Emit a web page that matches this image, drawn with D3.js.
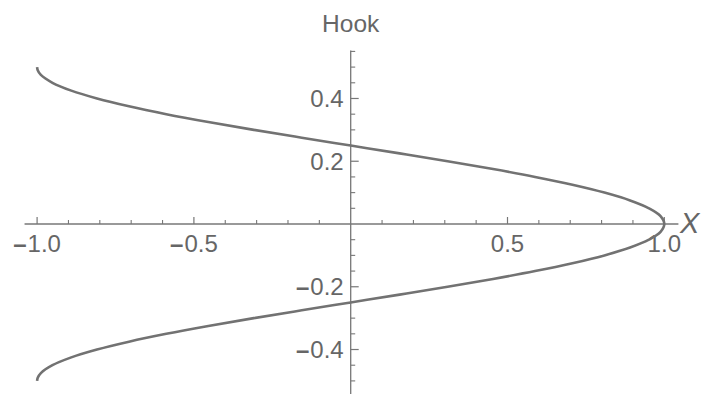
<!DOCTYPE html>
<html>
<head>
<meta charset="utf-8">
<script src="https://cdn.jsdelivr.net/npm/d3@7"></script>
<style>
  html, body { margin: 0; padding: 0; background: #fff; }
  svg { display: block; }
  text { font-family: "Liberation Sans", Arial, sans-serif; fill: #666; }
</style>
</head>
<body>
<svg id="chart" width="713" height="394"></svg>
<script>
// Hook curve: horizontal position X for each height along the curve
const hookY = [-0.5, -0.49, -0.475, -0.45, -0.425, -0.4, -0.375, -0.35, -0.325, -0.3, -0.275,
               -0.25, -0.225, -0.2, -0.175, -0.15, -0.125, -0.1, -0.075, -0.05, -0.025,
               0, 0.025, 0.05, 0.075, 0.1, 0.125, 0.15, 0.175, 0.2, 0.225,
               0.25, 0.275, 0.3, 0.325, 0.35, 0.375, 0.4, 0.425, 0.45, 0.475, 0.49, 0.5];
const hookX = [-1.0, -0.998, -0.988, -0.951, -0.891, -0.809, -0.707, -0.588, -0.454, -0.309, -0.156,
               0.0, 0.156, 0.309, 0.454, 0.588, 0.707, 0.809, 0.891, 0.951, 0.988,
               1.0, 0.988, 0.951, 0.891, 0.809, 0.707, 0.588, 0.454, 0.309, 0.156,
               0.0, -0.156, -0.309, -0.454, -0.588, -0.707, -0.809, -0.891, -0.951, -0.988, -0.998, -1.0];

// Axis ticks and labels
const xMajorTicks = [-1.0, -0.5, 0.5, 1.0];
const xTickLabels = ["-1.0", "-0.5", "0.5", "1.0"];
const xMinorTicks = [-0.9, -0.8, -0.7, -0.6, -0.4, -0.3, -0.2, -0.1,
                     0.1, 0.2, 0.3, 0.4, 0.6, 0.7, 0.8, 0.9];
const yMajorTicks = [-0.4, -0.2, 0.2, 0.4];
const yTickLabels = ["-0.4", "-0.2", "0.2", "0.4"];
const yMinorTicks = [-0.55, -0.5, -0.45, -0.35, -0.3, -0.25, -0.15, -0.1, -0.05,
                     0.05, 0.1, 0.15, 0.25, 0.3, 0.35, 0.45, 0.5, 0.55];

const xAxisTitle = "X";
const yAxisTitle = "Hook";

const svg = d3.select("#chart");
const axisColor = "#777";
const curveColor = "#727272";

// Equal-aspect scales, origin placed near the centre of the frame
const x = d3.scaleLinear().domain([-1, 1]).range([350.7 - 313.6, 350.7 + 313.6]);
const y = d3.scaleLinear().domain([-1, 1]).range([224 + 313.8, 224 - 313.8]);

const gAxes = svg.append("g");

// X axis line
gAxes.append("line")
  .attr("x1", x(-1.04)).attr("x2", x(1.045))
  .attr("y1", y(0)).attr("y2", y(0))
  .attr("stroke", axisColor).attr("stroke-width", 1.3);

// Y axis line
gAxes.append("line")
  .attr("x1", x(0)).attr("x2", x(0))
  .attr("y1", y(0.553)).attr("y2", 394)
  .attr("stroke", axisColor).attr("stroke-width", 1.3);

// X ticks point upward from the axis
gAxes.selectAll(".xmaj").data(xMajorTicks).join("line")
  .attr("x1", d => x(d)).attr("x2", d => x(d))
  .attr("y1", y(0)).attr("y2", y(0) - 7)
  .attr("stroke", axisColor).attr("stroke-width", 1.2);
gAxes.selectAll(".xmin").data(xMinorTicks).join("line")
  .attr("x1", d => x(d)).attr("x2", d => x(d))
  .attr("y1", y(0)).attr("y2", y(0) - 4)
  .attr("stroke", axisColor).attr("stroke-width", 1.1);

// Y ticks point right of the axis
gAxes.selectAll(".ymaj").data(yMajorTicks).join("line")
  .attr("x1", x(0)).attr("x2", x(0) + 8)
  .attr("y1", d => y(d)).attr("y2", d => y(d))
  .attr("stroke", axisColor).attr("stroke-width", 1.2);
gAxes.selectAll(".ymin").data(yMinorTicks).join("line")
  .attr("x1", x(0)).attr("x2", x(0) + 4.5)
  .attr("y1", d => y(d)).attr("y2", d => y(d))
  .attr("stroke", axisColor).attr("stroke-width", 1.1);

// Labels draw a short heavy minus sign in front of negative numbers
function setLabel(sel, label) {
  if (label.startsWith("-")) {
    sel.append("tspan").attr("font-weight", "bold").text("\u2013");
    sel.append("tspan").attr("dx", 1).text(label.slice(1));
  } else {
    sel.text(label);
  }
}

// Tick labels
gAxes.selectAll(".xlab").data(xMajorTicks).join("text")
  .attr("x", d => x(d)).attr("y", y(0) + 28)
  .attr("text-anchor", "middle")
  .attr("font-size", 24)
  .each(function (d, i) { setLabel(d3.select(this), xTickLabels[i]); });

gAxes.selectAll(".ylab").data(yMajorTicks).join("text")
  .attr("x", x(0) - 7).attr("y", d => y(d) + 8.5)
  .attr("text-anchor", "end")
  .attr("font-size", 24)
  .each(function (d, i) { setLabel(d3.select(this), yTickLabels[i]); });

// Axis titles
svg.append("text")
  .attr("x", x(0)).attr("y", 32)
  .attr("text-anchor", "middle")
  .attr("font-size", 24.5)
  .text(yAxisTitle);

svg.append("text")
  .attr("x", 680).attr("y", y(0) + 9)
  .attr("font-size", 29)
  .attr("font-style", "italic")
  .text(xAxisTitle);

// The hook curve
const pts = hookY.map((v, i) => [hookX[i], v]);
const line = d3.line()
  .x(d => x(d[0]))
  .y(d => y(d[1]))
  .curve(d3.curveCatmullRom.alpha(0.5));

svg.append("path")
  .datum(pts)
  .attr("d", line)
  .attr("fill", "none")
  .attr("stroke", curveColor)
  .attr("stroke-width", 2.6)
  .attr("stroke-linecap", "butt");
</script>
</body>
</html>
